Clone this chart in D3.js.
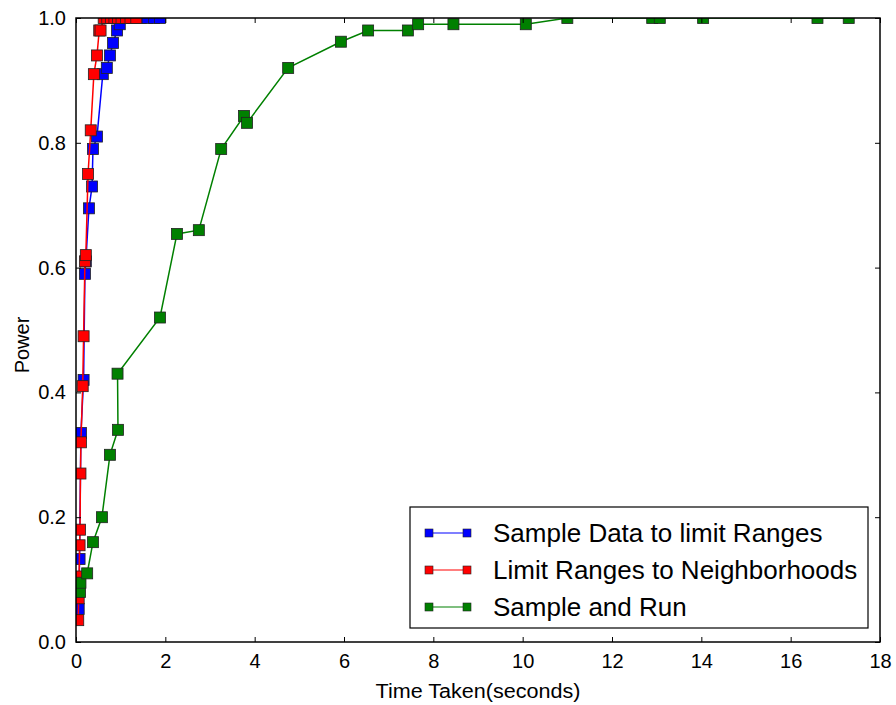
<!DOCTYPE html>
<html>
<head>
<meta charset="utf-8">
<script src="https://cdn.jsdelivr.net/npm/d3@7"></script>
<style>
    body { margin: 0; background: #fff; }
    text { font-family: "Liberation Sans", Arial, Helvetica, sans-serif; }
</style>
</head>
<body>
<script>
// data: time taken (seconds) and power for each method
const blueTime = [0.06, 0.08, 0.11, 0.17, 0.20, 0.22, 0.29, 0.36, 0.38, 0.47, 0.60, 0.69, 0.76, 0.83, 0.92, 0.98, 1.05, 1.25, 1.45, 1.60, 1.75, 1.88]
const bluePower = [0.053, 0.133, 0.335, 0.42, 0.59, 0.61, 0.695, 0.73, 0.79, 0.81, 0.91, 0.92, 0.94, 0.96, 0.98, 0.99, 1.0, 1.0, 1.0, 1.0, 1.0, 1.0]

const redTime = [0.05, 0.06, 0.07, 0.08, 0.09, 0.10, 0.11, 0.15, 0.17, 0.20, 0.22, 0.27, 0.33, 0.40, 0.47, 0.52, 0.55, 0.62, 0.70, 0.78, 0.86, 0.94, 1.02, 1.12, 1.22, 1.35]
const redPower = [0.035, 0.07, 0.105, 0.155, 0.18, 0.27, 0.32, 0.41, 0.49, 0.61, 0.62, 0.75, 0.82, 0.91, 0.94, 0.98, 0.98, 1.0, 1.0, 1.0, 1.0, 1.0, 1.0, 1.0, 1.0, 1.0]

const greenTime = [0.09, 0.10, 0.25, 0.38, 0.58, 0.76, 0.94, 0.93, 1.88, 2.26, 2.75, 3.25, 3.76, 3.83, 4.75, 5.93, 6.54, 7.43, 7.66, 8.45, 10.07, 11.0, 12.9, 13.07, 14.04, 16.6, 17.3]
const greenPower = [0.08, 0.095, 0.11, 0.16, 0.20, 0.30, 0.34, 0.43, 0.52, 0.654, 0.66, 0.79, 0.843, 0.832, 0.92, 0.962, 0.98, 0.98, 0.99, 0.99, 0.99, 1.0, 1.0, 1.0, 1.0, 1.0, 1.0]

const seriesNames = ["Sample Data to limit Ranges", "Limit Ranges to Neighborhoods", "Sample and Run"]
const seriesColors = ["#0000ff", "#ff0000", "#008000"]

const xTicks = [0, 2, 4, 6, 8, 10, 12, 14, 16, 18]
const yTicks = [0.0, 0.2, 0.4, 0.6, 0.8, 1.0]

// series built from the arrays
const series = [
    { name: seriesNames[0], color: seriesColors[0], pts: blueTime.map((t, i) => [t, bluePower[i]]) },
    { name: seriesNames[1], color: seriesColors[1], pts: redTime.map((t, i) => [t, redPower[i]]) },
    { name: seriesNames[2], color: seriesColors[2], pts: greenTime.map((t, i) => [t, greenPower[i]]) }
]

const margin = { top: 18, right: 16, bottom: 63, left: 76 }
const width = 896 - margin.left - margin.right
const height = 705 - margin.top - margin.bottom

const svg = d3.select("body")
    .append("svg")
    .attr("width", 896)
    .attr("height", 705)
    .append("g")
    .attr("transform", "translate(" + margin.left + "," + margin.top + ")")

let x = d3.scaleLinear().domain([0, 18]).range([0, width])
let y = d3.scaleLinear().domain([0, 1]).range([height, 0])

// clip so the markers at 1.0 get cut by the frame
svg.append("clipPath").attr("id", "clip")
    .append("rect").attr("width", width).attr("height", height)

const plot = svg.append("g").attr("clip-path", "url(#clip)")

const line = d3.line().x(d => x(d[0])).y(d => y(d[1]))
const ms = 11

series.forEach(s => {
    plot.append("path")
        .datum(s.pts)
        .attr("d", line)
        .attr("fill", "none")
        .attr("stroke", s.color)
        .attr("stroke-width", 1.5)
    plot.append("g")
        .selectAll("rect")
        .data(s.pts)
        .join("rect")
        .attr("x", d => x(d[0]) - ms / 2)
        .attr("y", d => y(d[1]) - ms / 2)
        .attr("width", ms)
        .attr("height", ms)
        .attr("fill", s.color)
        .attr("stroke", "#222")
        .attr("stroke-width", 0.8)
})

// axes, ticks inward on all four sides
const tickLen = 5
svg.append("g")
    .attr("transform", "translate(0," + height + ")")
    .call(d3.axisBottom(x).tickValues(xTicks).tickSizeInner(-tickLen).tickSizeOuter(0).tickPadding(12).tickFormat(d3.format("d")))
    .call(g => g.select(".domain").remove())
svg.append("g")
    .call(d3.axisTop(x).tickValues(xTicks).tickSizeInner(-tickLen).tickSizeOuter(0).tickFormat(""))
    .call(g => g.select(".domain").remove())
svg.append("g")
    .call(d3.axisLeft(y).tickValues(yTicks).tickSizeInner(-tickLen).tickSizeOuter(0).tickPadding(10).tickFormat(d3.format(".1f")))
    .call(g => g.select(".domain").remove())
svg.append("g")
    .attr("transform", "translate(" + width + ",0)")
    .call(d3.axisRight(y).tickValues(yTicks).tickSizeInner(-tickLen).tickSizeOuter(0).tickFormat(""))
    .call(g => g.select(".domain").remove())

svg.selectAll(".tick text").attr("font-size", 20).attr("fill", "#000")
    .attr("font-family", "'Liberation Sans', Arial, sans-serif")
svg.selectAll(".tick line").attr("stroke", "#000")

// frame
svg.append("rect")
    .attr("width", width)
    .attr("height", height)
    .attr("fill", "none")
    .attr("stroke", "#000")
    .attr("stroke-width", 1.5)

// axis titles
svg.append("text")
    .attr("text-anchor", "middle")
    .attr("x", width / 2)
    .attr("y", height + 56)
    .attr("font-size", 20)
    .attr("textLength", 205)
    .attr("lengthAdjust", "spacingAndGlyphs")
    .text("Time Taken(seconds)")

svg.append("text")
    .attr("text-anchor", "middle")
    .attr("transform", "rotate(-90)")
    .attr("x", -height / 2 - 15)
    .attr("y", -margin.left + 29)
    .attr("font-size", 20)
    .text("Power")

// legend
const legend = svg.append("g").attr("transform", "translate(" + (410 - margin.left) + "," + (507 - margin.top) + ")")
legend.append("rect")
    .attr("width", 458)
    .attr("height", 121)
    .attr("fill", "#fff")
    .attr("stroke", "#000")
    .attr("stroke-width", 1.2)

series.forEach((s, i) => {
    const row = legend.append("g").attr("transform", "translate(0," + (26 + i * 37) + ")")
    row.append("line")
        .attr("x1", 19).attr("x2", 57)
        .attr("stroke", s.color).attr("stroke-width", 1.2)
    ;[19, 57].forEach(cx => {
        row.append("rect")
            .attr("x", cx - 4).attr("y", -4)
            .attr("width", 8).attr("height", 8)
            .attr("fill", s.color)
            .attr("stroke", "#222").attr("stroke-width", 0.6)
    })
    row.append("text")
        .attr("x", 83)
        .attr("y", 9)
        .attr("font-size", 26)
        .text(s.name)
})
</script>
</body>
</html>
